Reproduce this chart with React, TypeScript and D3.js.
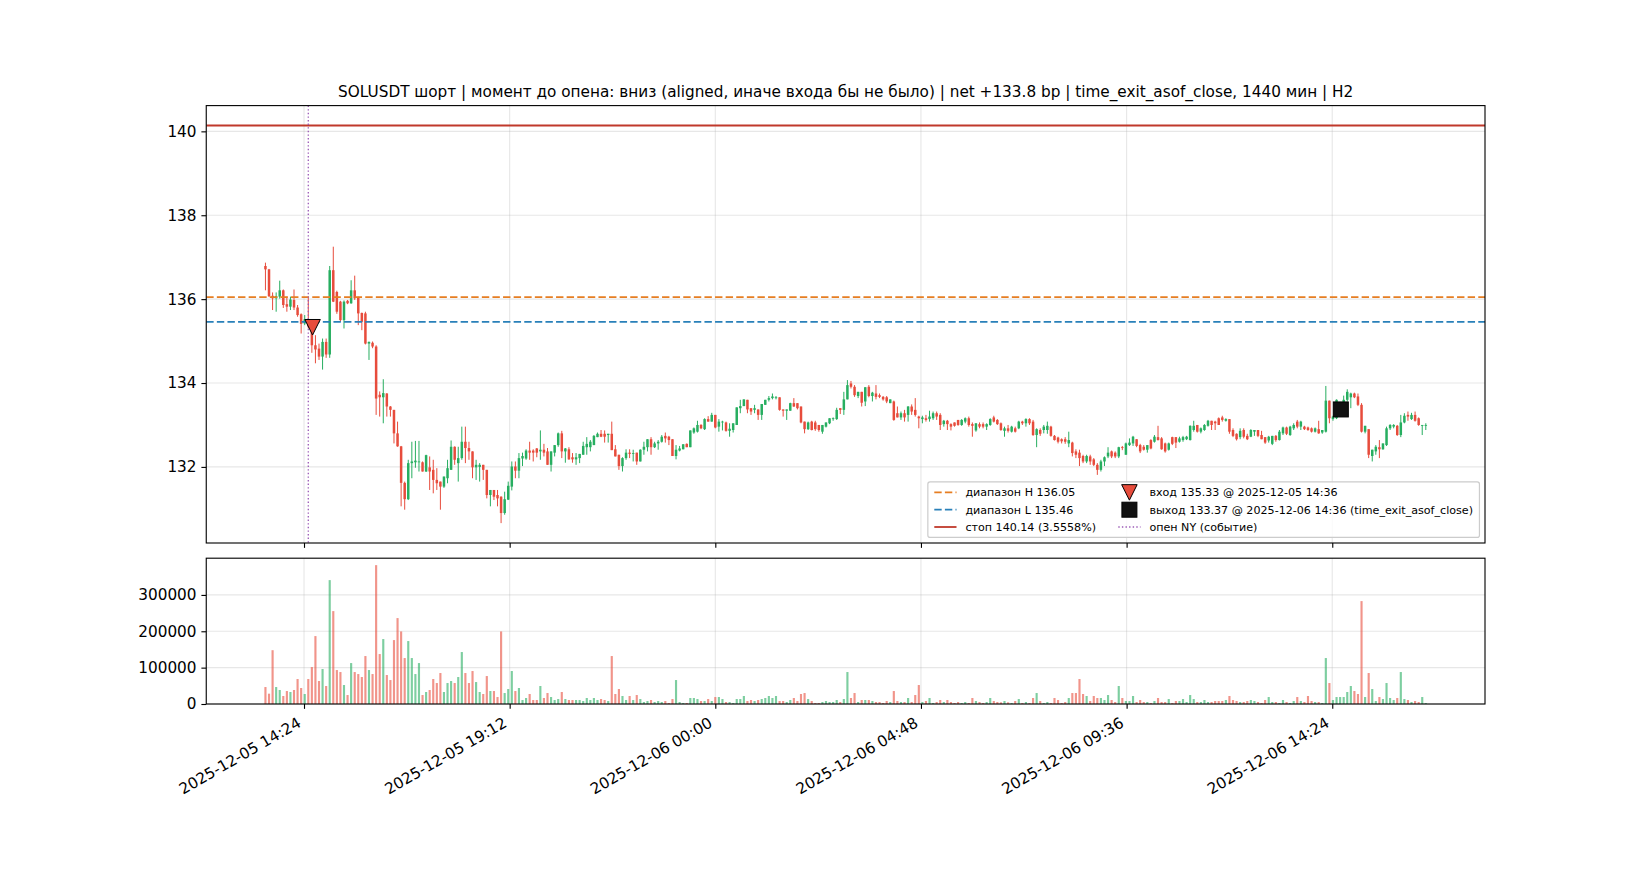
import * as d3 from "d3";
import { useEffect, useRef } from "react";

/* -----------------------------
    DATA (5-minute candles, SOLUSDT)
----------------------------- */
const firstCandle = "2025-12-05T13:30:00Z";
const candleMinutes = 5;

// [open, high, low, close]
const ohlc: [number, number, number, number][] = [
  [136.79, 136.87, 136.21, 136.71], [136.71, 136.72, 136.05, 136.07], [136.08, 136.16, 135.74, 136.02], [136.02, 136.16, 135.7, 136.07], [136.06, 136.44, 136.01, 136.21],
  [136.21, 136.23, 135.79, 135.86], [135.88, 136.06, 135.7, 135.82], [135.82, 136.06, 135.74, 135.99], [135.98, 136.23, 135.74, 135.8], [135.8, 135.86, 135.58, 135.62],
  [135.64, 135.66, 135.18, 135.41], [135.42, 135.62, 135.38, 135.52], [135.52, 136.05, 135.3, 135.35], [135.35, 135.4, 134.72, 134.9], [134.9, 135.14, 134.47, 134.8],
  [134.82, 134.94, 134.55, 134.63], [134.63, 135.06, 134.32, 134.98], [134.98, 135.06, 134.6, 134.68], [134.68, 136.79, 134.6, 136.69], [136.69, 137.25, 135.93, 135.94],
  [136.17, 136.2, 135.65, 135.7], [135.94, 135.96, 135.46, 135.5], [135.5, 135.97, 135.3, 135.94], [135.96, 135.98, 135.88, 135.9], [135.9, 136.45, 135.89, 136.21],
  [136.21, 136.56, 135.98, 136.02], [136.05, 136.06, 135.38, 135.66], [135.67, 135.68, 135.26, 135.46], [135.66, 135.7, 134.92, 134.94], [134.94, 134.99, 134.55, 134.98],
  [134.96, 134.99, 134.83, 134.87], [134.87, 134.9, 133.24, 133.63], [133.72, 133.8, 133.2, 133.66], [133.66, 134.09, 133.04, 133.76], [133.75, 133.76, 133.2, 133.44],
  [133.44, 133.45, 133.2, 133.36], [133.36, 133.36, 132.56, 132.8], [132.8, 133.08, 132.48, 132.49], [132.49, 132.5, 131.06, 131.62], [131.62, 131.65, 130.98, 131.23],
  [131.23, 132.17, 131.21, 132.09], [132.09, 132.6, 131.73, 132.13], [132.11, 132.62, 131.98, 132.15], [132.11, 132.62, 131.89, 132.13], [132.11, 132.13, 131.89, 131.89],
  [131.89, 132.29, 131.88, 132.28], [131.99, 132.25, 131.45, 131.89], [131.93, 132.17, 131.37, 131.69], [131.69, 131.97, 131.45, 131.61], [131.65, 131.65, 130.98, 131.53],
  [131.53, 131.77, 131.5, 131.77], [131.73, 132.17, 131.61, 131.97], [131.93, 132.63, 131.93, 132.48], [132.48, 132.49, 132.05, 132.17], [132.09, 132.48, 131.65, 132.21],
  [132.21, 132.96, 132.17, 132.6], [132.6, 132.96, 132.09, 132.45], [132.45, 132.6, 132.17, 132.37], [132.37, 132.37, 131.73, 131.99], [131.99, 132.17, 131.69, 132.05],
  [132.0, 132.09, 131.65, 132.05], [132.05, 132.05, 131.69, 131.93], [131.93, 131.93, 131.25, 131.33], [131.33, 131.45, 131.06, 131.45], [131.45, 131.45, 131.21, 131.29],
  [131.33, 131.45, 131.06, 131.25], [131.29, 131.3, 130.66, 130.9], [130.9, 131.41, 130.86, 131.23], [131.22, 131.65, 131.21, 131.55], [131.53, 132.13, 131.44, 132.01],
  [132.01, 132.13, 131.73, 131.91], [131.91, 132.33, 131.73, 132.21], [132.2, 132.34, 132.02, 132.26], [132.2, 132.42, 132.17, 132.39], [132.39, 132.6, 132.17, 132.34],
  [132.39, 132.42, 132.13, 132.34], [132.44, 132.45, 132.23, 132.34], [132.37, 132.87, 132.17, 132.41], [132.41, 132.55, 132.25, 132.34], [132.37, 132.45, 132.05, 132.05],
  [132.05, 132.37, 131.89, 132.37], [132.34, 132.52, 132.25, 132.52], [132.52, 132.82, 132.48, 132.8], [132.8, 132.86, 132.21, 132.37], [132.37, 132.45, 132.1, 132.44],
  [132.42, 132.47, 132.17, 132.18], [132.23, 132.33, 132.1, 132.18], [132.18, 132.33, 132.05, 132.23], [132.21, 132.31, 132.09, 132.31], [132.29, 132.6, 132.29, 132.5],
  [132.47, 132.71, 132.29, 132.55], [132.47, 132.64, 132.37, 132.6], [132.52, 132.76, 132.52, 132.74], [132.71, 132.82, 132.71, 132.79], [132.79, 132.88, 132.71, 132.72],
  [132.79, 132.87, 132.58, 132.72], [132.76, 132.79, 132.58, 132.79], [132.79, 133.08, 132.4, 132.4], [132.42, 132.52, 132.25, 132.25], [132.29, 132.29, 131.93, 132.02],
  [132.02, 132.23, 131.89, 132.21], [132.21, 132.42, 132.17, 132.34], [132.34, 132.42, 132.21, 132.31], [132.31, 132.41, 132.13, 132.33], [132.34, 132.34, 132.05, 132.13],
  [132.13, 132.42, 132.13, 132.41], [132.41, 132.6, 132.29, 132.48], [132.47, 132.66, 132.37, 132.66], [132.66, 132.71, 132.29, 132.47], [132.47, 132.6, 132.45, 132.56],
  [132.56, 132.64, 132.41, 132.6], [132.6, 132.76, 132.58, 132.72], [132.74, 132.82, 132.58, 132.68], [132.72, 132.74, 132.52, 132.64], [132.66, 132.66, 132.26, 132.26],
  [132.26, 132.52, 132.18, 132.41], [132.39, 132.5, 132.37, 132.44], [132.42, 132.54, 132.42, 132.54], [132.55, 132.56, 132.47, 132.47], [132.47, 132.87, 132.47, 132.87],
  [132.82, 132.94, 132.79, 132.92], [132.84, 133.1, 132.82, 133.0], [133.0, 133.02, 132.9, 132.92], [132.9, 133.16, 132.88, 133.14], [133.14, 133.21, 133.08, 133.08],
  [133.08, 133.29, 133.08, 133.24], [133.24, 133.24, 132.92, 132.94], [132.96, 133.14, 132.84, 133.08], [133.06, 133.1, 132.87, 133.08], [133.06, 133.08, 132.84, 132.86],
  [132.86, 133.04, 132.72, 132.91], [132.88, 133.04, 132.82, 133.04], [133.0, 133.42, 133.0, 133.42], [133.4, 133.6, 133.28, 133.45], [133.45, 133.61, 133.45, 133.61],
  [133.6, 133.6, 133.28, 133.37], [133.4, 133.4, 133.24, 133.32], [133.36, 133.48, 133.28, 133.4], [133.37, 133.37, 133.12, 133.24], [133.24, 133.5, 133.12, 133.5],
  [133.48, 133.6, 133.48, 133.6], [133.6, 133.69, 133.56, 133.64], [133.64, 133.75, 133.61, 133.68], [133.64, 133.69, 133.61, 133.66], [133.66, 133.66, 133.34, 133.36],
  [133.37, 133.37, 133.2, 133.34], [133.34, 133.37, 133.12, 133.37], [133.34, 133.53, 133.34, 133.52], [133.52, 133.64, 133.43, 133.44], [133.52, 133.52, 133.37, 133.4],
  [133.44, 133.44, 133.04, 133.06], [133.08, 133.08, 132.8, 132.9], [132.9, 133.08, 132.88, 133.06], [133.08, 133.1, 132.87, 132.88], [133.06, 133.1, 132.86, 132.9],
  [133.0, 133.0, 132.84, 132.88], [132.84, 133.0, 132.79, 133.0], [132.96, 133.06, 132.94, 133.06], [133.04, 133.16, 133.02, 133.16], [133.14, 133.18, 133.1, 133.16],
  [133.14, 133.41, 133.12, 133.36], [133.4, 133.4, 133.26, 133.36], [133.36, 133.79, 133.24, 133.61], [133.61, 134.07, 133.61, 133.95], [133.99, 134.05, 133.87, 133.91],
  [133.91, 133.95, 133.67, 133.71], [133.69, 133.79, 133.64, 133.79], [133.79, 133.79, 133.44, 133.53], [133.56, 133.9, 133.45, 133.9], [133.91, 133.95, 133.66, 133.69],
  [133.69, 133.79, 133.56, 133.77], [133.75, 133.95, 133.61, 133.67], [133.71, 133.75, 133.64, 133.67], [133.67, 133.69, 133.58, 133.61], [133.66, 133.69, 133.52, 133.56],
  [133.52, 133.61, 133.52, 133.61], [133.56, 133.58, 133.1, 133.12], [133.28, 133.44, 133.18, 133.18], [133.18, 133.32, 133.12, 133.28], [133.28, 133.36, 133.08, 133.18],
  [133.24, 133.45, 133.08, 133.44], [133.44, 133.49, 133.24, 133.32], [133.36, 133.64, 133.2, 133.24], [133.2, 133.22, 132.92, 133.16], [133.14, 133.22, 133.04, 133.18],
  [133.16, 133.24, 133.08, 133.12], [133.14, 133.34, 133.08, 133.2], [133.16, 133.32, 133.12, 133.28], [133.28, 133.32, 133.12, 133.2], [133.24, 133.28, 132.88, 133.0],
  [133.02, 133.12, 132.96, 133.1], [133.1, 133.12, 132.88, 133.02], [133.02, 133.04, 132.87, 132.96], [133.06, 133.06, 132.96, 132.98], [133.12, 133.12, 132.98, 133.0],
  [133.0, 133.14, 132.98, 133.12], [133.08, 133.18, 133.04, 133.16], [133.16, 133.2, 132.96, 133.0], [133.02, 133.06, 132.72, 132.98], [132.87, 133.04, 132.84, 133.04],
  [133.02, 133.06, 132.92, 132.96], [133.02, 133.06, 132.92, 132.96], [132.96, 133.04, 132.88, 133.02], [133.0, 133.16, 132.98, 133.14], [133.18, 133.22, 133.06, 133.08],
  [133.12, 133.14, 133.0, 133.02], [133.04, 133.06, 132.86, 132.88], [132.86, 132.96, 132.72, 132.92], [132.92, 133.0, 132.82, 132.86], [132.84, 132.98, 132.82, 132.96],
  [132.92, 132.96, 132.82, 132.84], [132.92, 133.1, 132.9, 133.08], [133.08, 133.1, 133.0, 133.04], [133.04, 133.16, 132.96, 133.14], [133.14, 133.16, 133.0, 133.04],
  [133.08, 133.12, 132.74, 132.76], [132.76, 132.92, 132.47, 132.9], [132.88, 132.92, 132.74, 132.79], [132.88, 133.0, 132.8, 132.96], [132.88, 133.08, 132.79, 132.98],
  [132.96, 132.98, 132.72, 132.74], [132.74, 132.76, 132.63, 132.64], [132.7, 132.72, 132.56, 132.6], [132.66, 132.68, 132.56, 132.61], [132.66, 132.71, 132.55, 132.6],
  [132.56, 132.84, 132.47, 132.64], [132.58, 132.6, 132.25, 132.33], [132.37, 132.42, 132.21, 132.29], [132.34, 132.41, 132.02, 132.21], [132.26, 132.29, 132.09, 132.13],
  [132.13, 132.29, 132.09, 132.26], [132.25, 132.29, 132.05, 132.13], [132.18, 132.21, 132.02, 132.05], [132.05, 132.09, 131.81, 131.93], [131.93, 132.17, 131.89, 132.13],
  [132.13, 132.25, 132.02, 132.23], [132.25, 132.47, 132.21, 132.34], [132.37, 132.39, 132.21, 132.25], [132.34, 132.37, 132.21, 132.25], [132.25, 132.48, 132.21, 132.47],
  [132.47, 132.5, 132.4, 132.45], [132.29, 132.58, 132.29, 132.56], [132.52, 132.68, 132.5, 132.58], [132.56, 132.74, 132.5, 132.72], [132.66, 132.66, 132.47, 132.5],
  [132.52, 132.55, 132.33, 132.37], [132.48, 132.52, 132.39, 132.41], [132.41, 132.52, 132.34, 132.52], [132.64, 132.66, 132.42, 132.44], [132.6, 132.76, 132.58, 132.72],
  [132.71, 132.98, 132.63, 132.64], [132.68, 132.71, 132.41, 132.42], [132.56, 132.58, 132.34, 132.37], [132.41, 132.58, 132.39, 132.56], [132.71, 132.72, 132.52, 132.55],
  [132.71, 132.71, 132.45, 132.58], [132.6, 132.72, 132.58, 132.68], [132.64, 132.74, 132.6, 132.71], [132.66, 132.74, 132.64, 132.72], [132.64, 132.99, 132.63, 132.98],
  [132.88, 133.1, 132.84, 132.98], [133.0, 133.0, 132.82, 132.84], [132.84, 132.94, 132.8, 132.92], [132.88, 133.02, 132.86, 133.0], [132.98, 133.12, 132.96, 133.1],
  [133.1, 133.1, 132.88, 133.0], [133.08, 133.1, 132.88, 133.04], [133.16, 133.18, 133.0, 133.0], [133.18, 133.22, 133.08, 133.12], [133.1, 133.16, 133.08, 133.14],
  [133.14, 133.14, 132.79, 132.84], [132.88, 132.92, 132.71, 132.74], [132.79, 132.8, 132.63, 132.66], [132.71, 132.92, 132.66, 132.86], [132.88, 132.92, 132.68, 132.72],
  [132.74, 132.79, 132.64, 132.66], [132.72, 132.9, 132.71, 132.88], [132.84, 132.88, 132.74, 132.88], [132.88, 132.88, 132.71, 132.74], [132.76, 132.86, 132.66, 132.66],
  [132.71, 132.71, 132.55, 132.58], [132.63, 132.74, 132.58, 132.72], [132.55, 132.74, 132.52, 132.74], [132.74, 132.76, 132.6, 132.64], [132.64, 132.88, 132.63, 132.84],
  [132.8, 132.96, 132.76, 132.94], [132.94, 132.96, 132.76, 132.79], [132.76, 132.98, 132.74, 132.96], [132.92, 133.04, 132.88, 133.0], [133.08, 133.12, 132.92, 132.96],
  [132.96, 133.1, 132.88, 133.08], [132.96, 132.98, 132.88, 132.9], [132.94, 132.96, 132.86, 132.88], [132.92, 132.94, 132.82, 132.84], [132.84, 132.94, 132.82, 132.92],
  [132.9, 133.1, 132.79, 132.8], [132.82, 132.88, 132.79, 132.88], [132.84, 133.93, 132.82, 133.58], [133.58, 133.58, 133.04, 133.16], [133.14, 133.22, 133.1, 133.2],
  [133.16, 133.61, 133.14, 133.6], [133.4, 133.55, 133.3, 133.45], [133.4, 133.7, 133.35, 133.6], [133.6, 133.85, 133.56, 133.79], [133.66, 133.77, 133.4, 133.75],
  [133.75, 133.77, 133.64, 133.66], [133.68, 133.75, 133.45, 133.48], [133.48, 133.52, 132.82, 132.84], [132.84, 132.98, 132.8, 132.98], [132.9, 132.9, 132.21, 132.29],
  [132.26, 132.41, 132.13, 132.41], [132.37, 132.52, 132.29, 132.48], [132.47, 132.64, 132.21, 132.42], [132.42, 132.56, 132.41, 132.56], [132.52, 132.96, 132.5, 132.92],
  [132.92, 133.02, 132.88, 133.0], [132.96, 133.02, 132.92, 133.0], [132.98, 133.0, 132.74, 132.76], [132.76, 133.24, 132.71, 133.06], [133.06, 133.28, 133.04, 133.22],
  [133.24, 133.32, 133.1, 133.2], [133.14, 133.29, 133.12, 133.24], [133.24, 133.32, 133.08, 133.1], [133.16, 133.18, 132.98, 133.0], [132.98, 133.0, 132.76, 133.0],
  [132.98, 133.04, 132.88, 133.0],
];

const volumes: number[] = [
  46700, 28400, 148000, 46700, 38500, 22000, 35700, 33000, 38500, 68700,
  44000, 27500, 68700, 101600, 186800, 63200, 96200, 49500, 340700, 255500,
  93400, 87900, 52200, 24700, 112600, 87900, 82400, 74200, 131900, 93400,
  82400, 381900, 137400, 178600, 79700, 65900, 175800, 236300, 199600, 126400,
  173100, 126400, 82400, 112600, 24700, 33000, 38500, 68700, 57700, 85200,
  33000, 57700, 63200, 57700, 74200, 142900, 85200, 57700, 90700, 60400,
  33000, 27500, 76900, 35700, 35700, 19200, 199600, 30200, 41200, 90700,
  35700, 44000, 11000, 16500, 27500, 11000, 11000, 49500, 16500, 30200,
  19200, 11000, 13700, 33000, 13700, 11000, 11000, 11000, 11000, 8200,
  16500, 11000, 16500, 11000, 13700, 11000, 8200, 131900, 27500, 41200,
  22000, 11000, 22000, 11000, 24700, 13700, 5500, 8200, 11000, 5500,
  8200, 5500, 8200, 2700, 13700, 65900, 5500, 2700, 2700, 16500,
  16500, 13700, 8200, 8200, 13700, 8200, 19200, 19200, 13700, 5500,
  5500, 2700, 13700, 13700, 22000, 8200, 11000, 8200, 11000, 13700,
  16500, 22000, 16500, 22000, 8200, 8200, 5500, 11000, 16500, 8200,
  27500, 30200, 13700, 8200, 2700, 2700, 5500, 8200, 5500, 5500,
  11000, 5500, 13700, 87900, 16500, 30200, 5500, 11000, 11000, 11000,
  8200, 5500, 5500, 2700, 8200, 5500, 35700, 8200, 5500, 5500,
  16500, 5500, 24700, 52200, 5500, 8200, 16500, 2700, 5500, 11000,
  5500, 11000, 5500, 2700, 5500, 2700, 5500, 2700, 16500, 8200,
  5500, 2700, 5500, 16500, 8200, 5500, 4600, 8200, 4600, 2700,
  8200, 13700, 2700, 5500, 2700, 16500, 30200, 8200, 2700, 5500,
  2700, 16500, 11000, 2700, 5500, 16500, 30200, 30200, 68700, 27500,
  22000, 8200, 22000, 16500, 16500, 11000, 24700, 11000, 5500, 49500,
  16500, 8200, 8200, 22000, 5500, 11000, 5500, 5500, 2700, 8200,
  16500, 5500, 5500, 13700, 2700, 8200, 8200, 13700, 5500, 24700,
  13700, 5500, 5500, 11000, 5500, 5500, 8200, 8200, 8200, 11000,
  22000, 11000, 8200, 5500, 5500, 8200, 11000, 8200, 5500, 2700,
  11000, 19200, 5500, 5500, 2700, 11000, 5500, 2700, 8200, 19200,
  8200, 5500, 22000, 8200, 5500, 5500, 2700, 126400, 57700, 11000,
  19200, 19200, 19200, 33000, 49500, 35700, 27500, 283000, 19200, 85200,
  41200, 8200, 19200, 13700, 57700, 16500, 11000, 16500, 87900, 13700,
  11000, 5500, 8200, 5500, 19200, 2700,
];

const rangeHigh = 136.05;
const rangeLow = 135.46;
const stopPrice = 140.14;
const stopPct = 3.5558;
const entryTime = "2025-12-05T14:36:00Z";
const entryPrice = 135.33;
const exitTime = "2025-12-06T14:36:00Z";
const exitPrice = 133.37;
const nyOpenTime = "2025-12-05T14:30:00Z";

const timeTicks = [
  "2025-12-05T14:24:00Z",
  "2025-12-05T19:12:00Z",
  "2025-12-06T00:00:00Z",
  "2025-12-06T04:48:00Z",
  "2025-12-06T09:36:00Z",
  "2025-12-06T14:24:00Z",
];
const priceTicks = [132, 134, 136, 138, 140];
const volumeTicks = [0, 100000, 200000, 300000];

const title =
  "SOLUSDT шорт | момент до опена: вниз (aligned, иначе входа бы не было) | net +133.8 bp | time_exit_asof_close, 1440 мин | H2";

const FONT = "DejaVu Sans, Liberation Sans, sans-serif";
const UP = "#27ae60";
const DOWN = "#e74c3c";

export default function App() {
  const ref = useRef<SVGSVGElement | null>(null);

  useEffect(() => {
    if (!ref.current) return;
    const svg = d3.select(ref.current);
    svg.selectAll("*").remove();

    const W = 1650;
    const H = 880;
    const left = 206.25;
    const right = 1485;
    const pTop = 105.6;
    const pBottom = 543;
    const vTop = 558.2;
    const vBottom = 704;
    const pt = 100 / 72; // px per point
    const tickLen = 3.5 * pt;
    const tickPad = 3.5 * pt;
    const fontPx = 11 * pt;

    svg.append("rect").attr("width", W).attr("height", H).attr("fill", "#fff");

    /* -----------------------------
        SCALES
    ----------------------------- */
    const t0 = new Date(firstCandle).getTime();
    const step = candleMinutes * 60000;
    const times = ohlc.map((_, i) => new Date(t0 + i * step));
    const barMs = 0.6 * step;
    const xMin = +times[0] - barMs / 2;
    const xMax = +times[times.length - 1] + barMs / 2;
    const xPad = (xMax - xMin) * 0.05;
    const x = d3
      .scaleUtc()
      .domain([new Date(xMin - xPad), new Date(xMax + xPad)])
      .range([left, right]);

    const lo = d3.min(ohlc, (d) => d[2])!;
    const hi = Math.max(d3.max(ohlc, (d) => d[1])!, stopPrice);
    const yPad = (hi - lo) * 0.05;
    const yP = d3.scaleLinear().domain([lo - yPad, hi + yPad]).range([pBottom, pTop]);

    const vMax = d3.max(volumes)!;
    const yV = d3.scaleLinear().domain([0, vMax * 1.05]).range([vBottom, vTop]);

    const ticks = timeTicks.map((s) => new Date(s));
    const fmt = d3.utcFormat("%Y-%m-%d %H:%M");

    /* -----------------------------
        GRID
    ----------------------------- */
    const grid = svg.append("g").attr("stroke", "#b0b0b0").attr("stroke-opacity", 0.3).attr("stroke-width", 0.8 * pt);
    ticks.forEach((t) => {
      grid.append("line").attr("x1", x(t)).attr("x2", x(t)).attr("y1", pTop).attr("y2", pBottom);
      grid.append("line").attr("x1", x(t)).attr("x2", x(t)).attr("y1", vTop).attr("y2", vBottom);
    });
    priceTicks.forEach((v) => {
      grid.append("line").attr("x1", left).attr("x2", right).attr("y1", yP(v)).attr("y2", yP(v));
    });
    volumeTicks.forEach((v) => {
      grid.append("line").attr("x1", left).attr("x2", right).attr("y1", yV(v)).attr("y2", yV(v));
    });

    /* -----------------------------
        CLIPS
    ----------------------------- */
    const defs = svg.append("defs");
    defs.append("clipPath").attr("id", "clipP").append("rect")
      .attr("x", left).attr("y", pTop).attr("width", right - left).attr("height", pBottom - pTop);
    defs.append("clipPath").attr("id", "clipV").append("rect")
      .attr("x", left).attr("y", vTop).attr("width", right - left).attr("height", vBottom - vTop);

    const price = svg.append("g").attr("clip-path", "url(#clipP)");
    const vol = svg.append("g").attr("clip-path", "url(#clipV)");

    const color = (d: number[]) => (d[3] >= d[0] ? UP : DOWN);
    const bodyW = x(new Date(t0 + 0.7 * step)) - x(new Date(t0));
    const volW = x(new Date(t0 + barMs)) - x(new Date(t0));

    /* -----------------------------
        CANDLES
    ----------------------------- */
    price.selectAll(".wick").data(ohlc).enter().append("line")
      .attr("x1", (_, i) => x(times[i])).attr("x2", (_, i) => x(times[i]))
      .attr("y1", (d) => yP(d[1])).attr("y2", (d) => yP(d[2]))
      .attr("stroke", (d) => color(d)).attr("stroke-width", 1);

    price.selectAll(".body").data(ohlc).enter().append("rect")
      .attr("x", (_, i) => x(times[i]) - bodyW / 2)
      .attr("y", (d) => yP(Math.max(d[0], d[3])))
      .attr("width", bodyW)
      .attr("height", (d) => Math.max(Math.abs(yP(d[0]) - yP(d[3])), 0.8))
      .attr("fill", (d) => color(d));

    /* -----------------------------
        LEVELS
    ----------------------------- */
    price.append("line").attr("x1", left).attr("x2", right).attr("y1", yP(rangeHigh)).attr("y2", yP(rangeHigh))
      .attr("stroke", "#e67e22").attr("stroke-width", 1.7).attr("stroke-dasharray", "7.4,3.2");
    price.append("line").attr("x1", left).attr("x2", right).attr("y1", yP(rangeLow)).attr("y2", yP(rangeLow))
      .attr("stroke", "#2980b9").attr("stroke-width", 1.7).attr("stroke-dasharray", "7.4,3.2");
    price.append("line").attr("x1", left).attr("x2", right).attr("y1", yP(stopPrice)).attr("y2", yP(stopPrice))
      .attr("stroke", "#c0392b").attr("stroke-width", 1.8);
    const ny = new Date(nyOpenTime);
    price.append("line").attr("x1", x(ny)).attr("x2", x(ny)).attr("y1", pTop).attr("y2", pBottom)
      .attr("stroke", "#9b59b6").attr("stroke-width", 1.3).attr("stroke-dasharray", "1.4,2.2");

    /* -----------------------------
        ENTRY / EXIT MARKERS
    ----------------------------- */
    const tri = (cx: number, cy: number, s: number) =>
      `M${cx - s / 2},${cy - s / 2}L${cx + s / 2},${cy - s / 2}L${cx},${cy + s / 2}Z`;
    const ex = x(new Date(entryTime));
    const ey = yP(entryPrice);
    price.append("path").attr("d", tri(ex, ey, 15.5)).attr("fill", DOWN).attr("stroke", "#000").attr("stroke-width", 1);
    const qx = x(new Date(exitTime));
    const qy = yP(exitPrice);
    price.append("rect").attr("x", qx - 7.5).attr("y", qy - 7.5).attr("width", 15).attr("height", 15)
      .attr("fill", "#111").attr("stroke", "#000").attr("stroke-width", 1);

    /* -----------------------------
        VOLUME
    ----------------------------- */
    vol.selectAll(".vbar").data(volumes).enter().append("rect")
      .attr("x", (_, i) => x(times[i]) - volW / 2)
      .attr("y", (d) => yV(d))
      .attr("width", volW)
      .attr("height", (d) => yV(0) - yV(d))
      .attr("fill", (_, i) => color(ohlc[i]))
      .attr("fill-opacity", 0.6);

    /* -----------------------------
        AXES
    ----------------------------- */
    const styleAxis = (g: d3.Selection<SVGGElement, unknown, null, undefined>) => {
      g.select(".domain").remove();
      g.selectAll("line").attr("stroke", "#000").attr("stroke-width", 0.8 * pt);
      g.selectAll("text").attr("font-family", FONT).attr("font-size", fontPx).attr("fill", "#000");
    };

    svg.append("g").attr("transform", `translate(${left},0)`)
      .call(d3.axisLeft(yP).tickValues(priceTicks).tickSize(tickLen).tickPadding(tickPad).tickFormat(d3.format("d")))
      .call(styleAxis);
    svg.append("g").attr("transform", `translate(${left},0)`)
      .call(d3.axisLeft(yV).tickValues(volumeTicks).tickSize(tickLen).tickPadding(tickPad).tickFormat(d3.format("d")))
      .call(styleAxis);
    svg.append("g").attr("transform", `translate(0,${pBottom})`)
      .call(d3.axisBottom(x).tickValues(ticks).tickSize(tickLen).tickFormat(() => ""))
      .call(styleAxis);
    const xb = svg.append("g").attr("transform", `translate(0,${vBottom})`)
      .call(d3.axisBottom(x).tickValues(ticks).tickSize(tickLen).tickFormat(() => ""))
      .call(styleAxis);

    const asc = 0.928 * fontPx;
    const desc = 0.236 * fontPx;
    const yTop = tickLen + tickPad;
    ticks.forEach((t) => {
      const ax = x(t) - 0.5 * desc;
      const ay = yTop + 0.866 * asc;
      xb.append("text")
        .attr("x", ax).attr("y", ay)
        .attr("text-anchor", "end")
        .attr("transform", `rotate(-30,${ax},${ay})`)
        .attr("font-family", FONT).attr("font-size", fontPx).attr("fill", "#000")
        .text(fmt(t));
    });

    // spines
    [[pTop, pBottom], [vTop, vBottom]].forEach(([a, b]) => {
      svg.append("rect").attr("x", left).attr("y", a).attr("width", right - left).attr("height", b - a)
        .attr("fill", "none").attr("stroke", "#000").attr("stroke-width", 0.8 * pt);
    });

    /* -----------------------------
        TITLE
    ----------------------------- */
    svg.append("text")
      .attr("x", (left + right) / 2).attr("y", pTop - 6 * pt)
      .attr("text-anchor", "middle")
      .attr("font-family", FONT).attr("font-size", fontPx).attr("fill", "#000")
      .text(title);

    /* -----------------------------
        LEGEND
    ----------------------------- */
    const fs = 8 * pt;
    const leg = svg.append("g").attr("font-family", FONT).attr("font-size", fs);
    const col1 = [
      { label: `диапазон H ${rangeHigh.toFixed(2)}`, kind: "dash", color: "#e67e22" },
      { label: `диапазон L ${rangeLow.toFixed(2)}`, kind: "dash", color: "#2980b9" },
      { label: `стоп ${stopPrice.toFixed(2)} (${stopPct.toFixed(4)}%)`, kind: "solid", color: "#c0392b" },
    ];
    const col2 = [
      { label: `вход ${entryPrice.toFixed(2)} @ ${fmt(new Date(entryTime))}`, kind: "tri", color: DOWN },
      { label: `выход ${exitPrice.toFixed(2)} @ ${fmt(new Date(exitTime))} (time_exit_asof_close)`, kind: "square", color: "#111" },
      { label: "опен NY (событие)", kind: "dot", color: "#9b59b6" },
    ];
    const measure = (s: string) => {
      const t = leg.append("text").text(s);
      const w = (t.node() as SVGTextElement).getComputedTextLength();
      t.remove();
      return w;
    };
    const w1 = d3.max(col1, (d) => measure(d.label))!;
    const w2 = d3.max(col2, (d) => measure(d.label))!;
    const bpad = 0.4 * fs;
    const hlen = 2 * fs;
    const htp = 0.8 * fs;
    const cs = 2 * fs;
    const boxW = 2 * bpad + 2 * hlen + 2 * htp + w1 + w2 + cs + 4;
    const boxR = right - 0.5 * fs;
    const boxB = pBottom - 0.5 * fs;
    const rowH = 17.3;
    const boxH = 2 * bpad + 2 * rowH + 12;
    const boxL = boxR - boxW;
    const boxT = boxB - boxH;
    leg.append("rect").attr("x", boxL).attr("y", boxT).attr("width", boxW).attr("height", boxH)
      .attr("rx", 2.2).attr("fill", "#fff").attr("fill-opacity", 0.8)
      .attr("stroke", "#cccccc").attr("stroke-width", 1.2);

    const drawCol = (items: typeof col1, hx: number) => {
      items.forEach((it, r) => {
        const cy = boxT + bpad + 6 + r * rowH;
        if (it.kind === "dash" || it.kind === "solid" || it.kind === "dot") {
          const ln = leg.append("line").attr("x1", hx).attr("x2", hx + hlen).attr("y1", cy).attr("y2", cy)
            .attr("stroke", it.color);
          if (it.kind === "dash") ln.attr("stroke-width", 1.7).attr("stroke-dasharray", "7.4,3.2");
          if (it.kind === "solid") ln.attr("stroke-width", 1.8);
          if (it.kind === "dot") ln.attr("stroke-width", 1.3).attr("stroke-dasharray", "1.4,2.2");
        } else if (it.kind === "tri") {
          leg.append("path").attr("d", tri(hx + hlen / 2, cy, 15.5)).attr("fill", it.color).attr("stroke", "#000").attr("stroke-width", 1);
        } else {
          leg.append("rect").attr("x", hx + hlen / 2 - 7.5).attr("y", cy - 7.5).attr("width", 15).attr("height", 15)
            .attr("fill", it.color).attr("stroke", "#000").attr("stroke-width", 1);
        }
        leg.append("text").attr("x", hx + hlen + htp).attr("y", cy).attr("dy", "0.35em").attr("fill", "#000").text(it.label);
      });
    };
    const c1x = boxL + bpad + 2;
    drawCol(col1, c1x);
    drawCol(col2, c1x + hlen + htp + w1 + cs);
  }, []);

  return (
    <svg
      ref={ref}
      width={1650}
      height={880}
      style={{ position: "absolute", left: 0, top: 0, background: "#fff" }}
    />
  );
}
